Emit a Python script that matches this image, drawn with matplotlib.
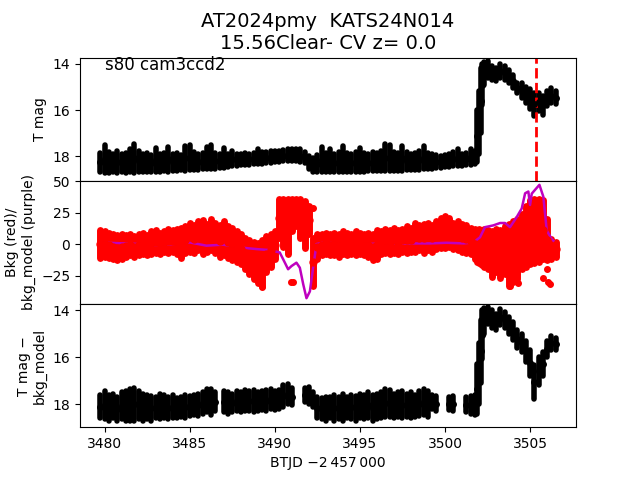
import numpy as np
import matplotlib
matplotlib.use('Agg')
import matplotlib.pyplot as plt

# time stamps (BTJD - 2457000)
btjd = [3479.75, 3480.0, 3480.25, 3480.5, 3480.75, 3481.0, 3481.25, 3481.5,
        3481.75, 3482.0, 3482.25, 3482.5, 3482.75, 3483.0, 3483.25, 3483.5,
        3483.75, 3484.0, 3484.25, 3484.5, 3484.75, 3485.0, 3485.25, 3485.5,
        3485.75, 3486.0, 3486.25, 3486.5, 3486.75, 3487.0, 3487.25, 3487.5,
        3487.75, 3488.0, 3488.25, 3488.5, 3488.75, 3489.0, 3489.25, 3489.5,
        3489.75, 3490.0, 3490.25, 3490.5, 3490.75, 3491.0, 3491.25, 3491.5,
        3491.75, 3492.0, 3492.25, 3492.5, 3492.75, 3493.0, 3493.25, 3493.5,
        3493.75, 3494.0, 3494.25, 3494.5, 3494.75, 3495.0, 3495.25, 3495.5,
        3495.75, 3496.0, 3496.25, 3496.5, 3496.75, 3497.0, 3497.25, 3497.5,
        3497.75, 3498.0, 3498.25, 3498.5, 3498.75, 3499.0, 3499.25, 3499.5,
        3499.75, 3500.0, 3500.25, 3500.5, 3500.75, 3501.0, 3501.25, 3501.5,
        3501.75, 3501.9, 3502.0, 3502.1, 3502.2, 3502.3, 3502.5, 3502.75,
        3503.0, 3503.25, 3503.5, 3503.75, 3504.0, 3504.25, 3504.5, 3504.75,
        3505.0, 3505.25, 3505.5, 3505.75, 3506.0, 3506.25, 3506.5]

# T mag, bright and faint edge of each error bar
tmag_hi = [17.85, 17.50, 17.80, 17.90, 17.75, 17.90, 17.85, 17.70,
           17.45, 17.75, 17.90, 17.85, 17.95, 17.65, 17.90, 17.85,
           17.60, 17.90, 17.85, 17.95, 17.55, 17.50, 17.80, 17.90,
           17.85, 17.60, 17.50, 17.85, 17.90, 17.65, 17.90, 17.75,
           17.90, 17.88, 17.85, 17.88, 17.85, 17.70, 17.83, 17.80,
           17.78, 17.78, 17.75, 17.72, 17.68, 17.66, 17.66, 17.70,
           17.80, 18.00, 18.05, 17.95, 17.60, 17.85, 17.70, 17.90,
           17.80, 17.55, 17.85, 17.90, 17.80, 17.62, 17.85, 17.90,
           17.80, 17.85, 17.75, 17.48, 17.50, 17.80, 17.85, 17.55,
           17.80, 17.90, 17.85, 17.75, 17.55, 17.85, 17.90, 17.95,
           18.00, 17.95, 17.90, 17.80, 17.68, 17.90, 17.85, 17.68,
           17.75, 16.00, 15.20, 14.20, 14.00, 13.95, 13.90, 14.10,
           14.20, 14.00, 14.10, 14.26, 14.47, 14.83, 14.83, 15.00,
           15.10, 15.26, 15.26, 15.40, 15.20, 15.05, 15.20]
tmag_lo = [18.65, 18.70, 18.70, 18.68, 18.70, 18.65, 18.70, 18.68,
           18.70, 18.68, 18.65, 18.68, 18.65, 18.66, 18.65, 18.64,
           18.65, 18.62, 18.63, 18.60, 18.62, 18.60, 18.60, 18.58,
           18.55, 18.56, 18.55, 18.52, 18.50, 18.48, 18.45, 18.43,
           18.40, 18.38, 18.36, 18.35, 18.34, 18.33, 18.32, 18.30,
           18.28, 18.25, 18.22, 18.20, 18.19, 18.19, 18.20, 18.22,
           18.30, 18.55, 18.65, 18.68, 18.68, 18.68, 18.68, 18.68,
           18.66, 18.66, 18.66, 18.65, 18.66, 18.65, 18.65, 18.64,
           18.64, 18.64, 18.63, 18.63, 18.62, 18.62, 18.62, 18.61,
           18.60, 18.60, 18.58, 18.57, 18.56, 18.55, 18.53, 18.50,
           18.48, 18.45, 18.45, 18.42, 18.42, 18.40, 18.38, 18.36,
           18.33, 18.25, 17.90, 17.00, 15.80, 14.90, 14.60, 14.70,
           14.76, 14.60, 14.70, 14.83, 15.05, 15.26, 15.50, 15.70,
           15.97, 16.26, 16.05, 16.20, 15.83, 15.70, 15.76]

# background flux, upper and lower edge
bkg_hi = [11, 10, 9, 8, 7, 8, 7, 8,
          6, 8, 9, 7, 10, 11, 9, 10,
          12, 11, 12, 13, 14, 17, 15, 18,
          19, 16, 20, 17, 15, 18, 14, 13,
          10, 8, 5, 3, 2, 1, 3, 6,
          8, 10, 36, 36, 36, 36, 36, 36,
          34, 30, 5, 8, 8, 9, 8, 9,
          8, 10, 9, 8, 10, 9, 8, 9,
          8, 11, 10, 12, 11, 13, 11, 12,
          14, 13, 17, 15, 16, 17, 15, 18,
          21, 22, 21, 17, 18, 16, 15, 13,
          12, 11, 12, 10, 11, 12, 11, 10,
          12, 11, 14, 16, 18, 20, 24, 30,
          35, 36, 36, 35, 20, 4, 2]
bkg_lo = [-11, -10, -11, -12, -13, -12, -10, -9,
          -10, -9, -8, -9, -8, -7, -8, -6,
          -7, -6, -8, -11, -7, -6, -7, -5,
          -8, -6, -5, -7, -10, -9, -11, -13,
          -14, -16, -20, -24, -28, -31, -33, -22,
          -18, -12, 5, -2, -8, 10, 14, 5,
          -3, 8, -33, -12, -9, -8, -9, -9,
          -10, -8, -9, -8, -9, -8, -9, -10,
          -13, -12, -8, -7, -8, -7, -8, -6,
          -7, -6, -6, -5, -7, -5, -6, -4,
          -3, -3, -2, -4, -5, -6, -7, -8,
          -12, -14, -15, -16, -17, -18, -20, -26,
          -22, -27, -24, -33, -30, -28, -20, -18,
          -16, -15, -14, -12, -13, -12, -10]
bkg_out_t = [3489.25, 3490.95, 3491.05, 3492.25, 3503.85, 3504.3, 3505.78, 3505.98, 3506.08, 3506.18]
bkg_out_v = [-34, -30, -30, 29, -33, -31, -27, -20, -30, -32]

# background model
model_t = [3479.7, 3481.08, 3482.06, 3483.04, 3484.02, 3485.0, 3485.98, 3486.96,
           3487.94, 3488.92, 3489.7, 3490.29, 3490.59, 3490.78, 3490.98, 3491.27,
           3491.47, 3491.67, 3491.86, 3492.06, 3492.25, 3492.45, 3492.84, 3493.82,
           3495.2, 3497.16, 3499.12, 3500.1, 3501.08, 3501.67, 3502.06, 3502.35,
           3502.84, 3503.24, 3503.53, 3503.82, 3504.22, 3504.51, 3504.71, 3504.9,
           3505.0, 3505.1, 3505.29, 3505.55, 3505.78, 3505.98, 3506.27, 3506.37]
model_v = [1.3, 0.5, 0, -0.8, 0, 1.3, -1.3, -0.5,
           -2.7, -4, -4.8, -6.7, -14.8, -20, -17.5, -14.8,
           -18.8, -32, -43, -37.6, -18.8, 0, 1, 0.5,
           0, 0.5, 0.5, 1, 0.5, 1.3, 5.4, 13.4,
           14.8, 16.7, 16.7, 13.4, 21.5, 28.2, 40.3, 41.7,
           31, 40, 43, 47, 37.6, 10.8, 4, 2.7]

# T mag - bkg_model, bright and faint edge
nan = np.nan
dmag_hi = [17.60, 17.45, 17.60, 17.55, 17.70, 17.50, 17.45, 17.35,
           17.30, 17.45, 17.55, 17.60, 17.65, 17.70, 17.55, 17.60,
           17.70, 17.60, 17.75, 17.70, 17.60, 17.65, 17.60, 17.55,
           17.50, 17.35, 17.35, 17.50, nan, 17.45, 17.50, 17.55,
           17.45, 17.50, 17.40, 17.45, 17.40, 17.50, 17.45, 17.40,
           17.35, 17.45, 17.40, 17.20, 17.15, 17.30, nan, nan,
           17.30, 17.25, 17.50, 17.70, 17.75, 17.70, 17.70, 17.60,
           17.70, 17.55, 17.70, 17.60, 17.65, 17.55, 17.60, 17.50,
           17.60, 17.55, 17.50, 17.35, 17.40, 17.55, 17.50, 17.45,
           17.55, 17.50, 17.60, 17.45, 17.35, 17.45, 17.60, 17.65,
           nan, nan, 17.70, 17.65, nan, nan, 17.70, 17.65,
           17.60, 16.30, 15.40, 14.40, 14.00, 13.90, 13.85, 14.00,
           14.15, 13.95, 14.10, 14.30, 14.50, 14.85, 15.00, 15.30,
           15.70, 16.35, 16.00, 15.80, 15.30, 15.10, 15.20]
dmag_lo = [18.60, 18.65, 18.70, 18.60, 18.70, 18.65, 18.70, 18.70,
           18.70, 18.65, 18.70, 18.65, 18.70, 18.60, 18.65, 18.60,
           18.65, 18.60, 18.60, 18.55, 18.60, 18.50, 18.45, 18.50,
           18.40, 18.35, 18.45, 18.30, nan, 18.35, 18.40, 18.35,
           18.30, 18.35, 18.30, 18.30, 18.35, 18.30, 18.25, 18.30,
           18.20, 18.25, 18.20, 18.10, 18.00, 18.05, nan, nan,
           17.90, 18.00, 18.10, 18.60, 18.65, 18.70, 18.60, 18.70,
           18.65, 18.70, 18.60, 18.65, 18.70, 18.60, 18.65, 18.60,
           18.70, 18.65, 18.60, 18.55, 18.55, 18.60, 18.55, 18.60,
           18.55, 18.60, 18.55, 18.50, 18.45, 18.55, 18.20, 18.30,
           nan, nan, 18.25, 18.30, nan, nan, 18.35, 18.40,
           18.45, 18.40, 18.00, 17.10, 16.10, 15.00, 14.60, 14.75,
           14.85, 14.65, 14.75, 15.00, 15.25, 15.60, 15.80, 16.20,
           16.80, 17.80, 17.20, 16.80, 16.00, 15.70, 15.70]

t_event = 3505.35


def band(ax, lo_edge, hi_edge, color, ms, lw):
    lo_edge = np.array(lo_edge, dtype=float)
    hi_edge = np.array(hi_edge, dtype=float)
    cont = ax.errorbar(t, (hi_edge + lo_edge) / 2, yerr=np.abs(hi_edge - lo_edge) / 2,
                       fmt='o', color=color, ms=ms, elinewidth=lw, capsize=0)
    for coll in cont.lines[2]:
        coll.set_capstyle('round')


t = np.array(btjd)
fig, (ax1, ax2, ax3) = plt.subplots(3, 1, sharex=True, figsize=(6.4, 4.8))
fig.subplots_adjust(hspace=0)

# light curve
band(ax1, tmag_lo, tmag_hi, 'k', 4, 4)
ax1.axvline(t_event, color='r', ls='--', lw=2)
ax1.set_ylim(19.05, 13.74)
ax1.set_yticks([14, 16, 18])
ax1.set_ylabel('T mag')
ax1.text(0.05, 0.9, 's80 cam3ccd2', transform=ax1.transAxes, fontsize=12)
ax1.set_title('AT2024pmy  KATS24N014\n15.56Clear- CV z= 0.0', fontsize=14)

# background
band(ax2, bkg_lo, bkg_hi, 'r', 5, 5)
ax2.plot(bkg_out_t, bkg_out_v, 'o', color='r', ms=4)
ax2.plot(model_t, model_v, color='m', lw=1.8)
ax2.set_ylim(-47.6, 50.2)
ax2.set_yticks([-25, 0, 25, 50])
ax2.set_ylabel('Bkg (red)/\nbkg_model (purple)')

# background-corrected light curve
band(ax3, dmag_lo, dmag_hi, 'k', 4, 4)
ax3.set_ylim(18.98, 13.74)
ax3.set_yticks([14, 16, 18])
ax3.set_ylabel('T mag \u2212\nbkg_model')

ax3.set_xlim(3478.55, 3507.7)
ax3.set_xlabel('BTJD \u22122\u2009457\u2009000')

plt.savefig('out.png', dpi=100)
